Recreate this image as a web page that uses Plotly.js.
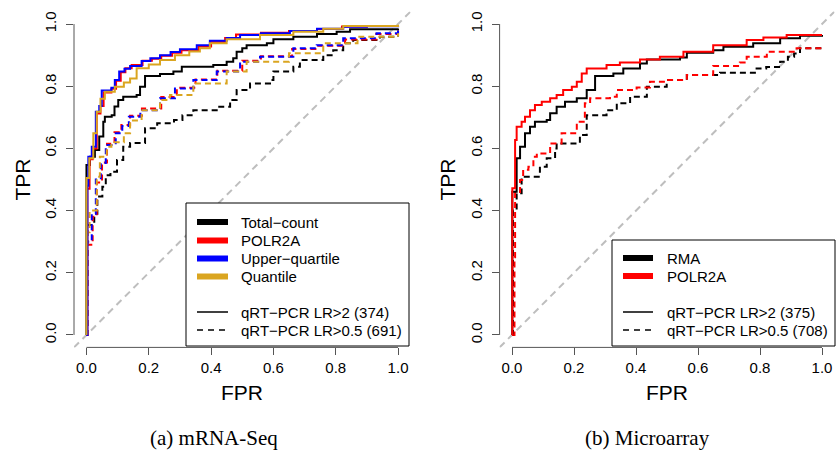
<!DOCTYPE html>
<html>
<head>
<meta charset="utf-8">
<script src="https://cdn.plot.ly/plotly-3.0.1.min.js"></script>
<style>html,body{margin:0;padding:0;background:#fff;}#chart{width:837px;height:452px;}</style>
</head>
<body>
<div id="chart"></div>
<script>
// ---------- Panel (a) mRNA-Seq : LR>2 (solid) ----------
const tcF = [0, 0.000, 0.011, 0.027, 0.041, 0.054, 0.059, 0.081, 0.090, 0.102, 0.118, 0.161, 0.172, 0.188, 0.236, 0.279, 0.306, 0.407, 0.450, 0.471, 0.482, 0.500, 0.514, 0.579, 0.600, 0.664, 0.740, 0.803, 0.846, 1.0];
const tcT = [0, 0.547, 0.573, 0.595, 0.638, 0.686, 0.702, 0.707, 0.735, 0.756, 0.766, 0.772, 0.798, 0.833, 0.839, 0.847, 0.863, 0.868, 0.879, 0.890, 0.911, 0.922, 0.932, 0.938, 0.951, 0.959, 0.968, 0.975, 0.983, 0.986];
const poF = [0, 0.003, 0.010, 0.020, 0.033, 0.045, 0.055, 0.080, 0.095, 0.110, 0.125, 0.145, 0.180, 0.210, 0.240, 0.275, 0.305, 0.360, 0.400, 0.445, 0.480, 0.560, 0.650, 0.740, 0.820, 0.900, 1.0];
const poT = [0, 0.470, 0.565, 0.600, 0.712, 0.736, 0.780, 0.792, 0.818, 0.845, 0.858, 0.868, 0.882, 0.888, 0.898, 0.908, 0.916, 0.928, 0.942, 0.955, 0.966, 0.972, 0.978, 0.984, 0.992, 0.994, 0.996];
const uqF = [0, 0.003, 0.006, 0.017, 0.030, 0.041, 0.049, 0.080, 0.091, 0.105, 0.122, 0.140, 0.177, 0.205, 0.236, 0.270, 0.300, 0.354, 0.396, 0.450, 0.493, 0.560, 0.653, 0.740, 0.824, 0.900, 1.0];
const uqT = [0, 0.480, 0.573, 0.605, 0.718, 0.736, 0.786, 0.795, 0.820, 0.847, 0.856, 0.865, 0.881, 0.890, 0.900, 0.910, 0.919, 0.932, 0.946, 0.955, 0.965, 0.970, 0.978, 0.985, 0.991, 0.993, 0.995];
const qF = [0, 0.000, 0.009, 0.022, 0.033, 0.045, 0.059, 0.091, 0.120, 0.140, 0.161, 0.200, 0.236, 0.284, 0.330, 0.364, 0.396, 0.450, 0.557, 0.664, 0.760, 0.824, 1.0];
const qT = [0, 0.505, 0.568, 0.649, 0.718, 0.760, 0.782, 0.798, 0.812, 0.825, 0.858, 0.870, 0.884, 0.900, 0.912, 0.922, 0.938, 0.951, 0.965, 0.975, 0.985, 0.994, 0.998];
// ---------- Panel (a) mRNA-Seq : LR>0.5 (dashed) ----------
const tcdF = [0, 0.003, 0.025, 0.035, 0.051, 0.062, 0.077, 0.098, 0.118, 0.140, 0.188, 0.227, 0.281, 0.308, 0.343, 0.418, 0.461, 0.482, 0.525, 0.589, 0.600, 0.664, 0.685, 0.760, 0.792, 0.824, 0.856, 0.942, 1.0];
const tcdT = [0, 0.354, 0.390, 0.445, 0.477, 0.514, 0.525, 0.563, 0.605, 0.617, 0.665, 0.681, 0.691, 0.707, 0.723, 0.734, 0.756, 0.788, 0.809, 0.820, 0.847, 0.863, 0.884, 0.900, 0.916, 0.938, 0.949, 0.959, 0.965];
const podF = [0, 0.003, 0.020, 0.033, 0.050, 0.066, 0.090, 0.112, 0.140, 0.178, 0.240, 0.290, 0.350, 0.420, 0.500, 0.560, 0.660, 0.740, 0.830, 0.930, 1.0];
const podT = [0, 0.290, 0.380, 0.490, 0.555, 0.615, 0.652, 0.675, 0.705, 0.728, 0.765, 0.795, 0.822, 0.850, 0.882, 0.896, 0.920, 0.930, 0.950, 0.968, 0.980];
const uqdF = [0, 0.003, 0.017, 0.030, 0.046, 0.062, 0.094, 0.115, 0.136, 0.173, 0.236, 0.284, 0.343, 0.418, 0.493, 0.557, 0.664, 0.739, 0.824, 0.931, 1.0];
const uqdT = [0, 0.300, 0.390, 0.500, 0.553, 0.611, 0.649, 0.672, 0.702, 0.723, 0.761, 0.793, 0.820, 0.847, 0.879, 0.895, 0.922, 0.932, 0.954, 0.970, 0.981];
const qdF = [0, 0.003, 0.010, 0.033, 0.043, 0.065, 0.080, 0.120, 0.140, 0.177, 0.236, 0.268, 0.343, 0.450, 0.514, 0.650, 0.760, 0.870, 1.0];
const qdT = [0, 0.330, 0.400, 0.509, 0.573, 0.605, 0.620, 0.649, 0.690, 0.723, 0.756, 0.772, 0.809, 0.847, 0.879, 0.906, 0.938, 0.959, 0.970];
// ---------- Panel (b) Microarray ----------
const rmF = [0, 0.001, 0.015, 0.026, 0.042, 0.058, 0.074, 0.112, 0.123, 0.144, 0.171, 0.209, 0.235, 0.241, 0.268, 0.327, 0.359, 0.413, 0.435, 0.542, 0.564, 0.649, 0.682, 0.778, 0.865, 0.929, 1.0];
const rmT = [0, 0.461, 0.568, 0.605, 0.649, 0.670, 0.686, 0.691, 0.713, 0.734, 0.750, 0.761, 0.761, 0.788, 0.833, 0.841, 0.857, 0.873, 0.886, 0.892, 0.908, 0.916, 0.927, 0.938, 0.954, 0.962, 0.965];
const prF = [0, 0.001, 0.010, 0.015, 0.031, 0.042, 0.058, 0.074, 0.096, 0.123, 0.144, 0.165, 0.193, 0.209, 0.225, 0.241, 0.305, 0.348, 0.413, 0.477, 0.553, 0.649, 0.757, 0.811, 0.886, 1.0];
const prT = [0, 0.472, 0.627, 0.670, 0.686, 0.702, 0.723, 0.740, 0.750, 0.761, 0.772, 0.788, 0.798, 0.814, 0.841, 0.857, 0.868, 0.876, 0.886, 0.895, 0.911, 0.932, 0.949, 0.957, 0.965, 0.965];
const rmdF = [0, 0.003, 0.015, 0.031, 0.090, 0.112, 0.139, 0.144, 0.219, 0.241, 0.305, 0.338, 0.381, 0.435, 0.499, 0.564, 0.671, 0.789, 0.820, 0.865, 0.890, 0.910, 0.929, 1.0];
const rmdT = [0, 0.400, 0.456, 0.509, 0.541, 0.568, 0.600, 0.616, 0.643, 0.707, 0.723, 0.745, 0.766, 0.798, 0.820, 0.836, 0.843, 0.857, 0.862, 0.879, 0.895, 0.905, 0.922, 0.927];
const prdF = [0, 0.008, 0.010, 0.026, 0.036, 0.053, 0.069, 0.080, 0.123, 0.160, 0.209, 0.235, 0.252, 0.316, 0.338, 0.402, 0.445, 0.499, 0.564, 0.649, 0.735, 0.757, 0.822, 0.918, 1.0];
const prdT = [0, 0.250, 0.460, 0.498, 0.531, 0.541, 0.573, 0.584, 0.616, 0.649, 0.686, 0.745, 0.761, 0.766, 0.788, 0.796, 0.814, 0.820, 0.836, 0.865, 0.876, 0.895, 0.911, 0.922, 0.927];

const tickVals = [0, 0.2, 0.4, 0.6, 0.8, 1.0];
const tickText = ["0.0", "0.2", "0.4", "0.6", "0.8", "1.0"];
const legendA = ["Total\u2212count", "POLR2A", "Upper\u2212quartile", "Quantile"];
const legendB = ["RMA", "POLR2A"];
const lineLabelsA = ["qRT\u2212PCR LR>2 (374)", "qRT\u2212PCR LR>0.5 (691)"];
const lineLabelsB = ["qRT\u2212PCR LR>2 (375)", "qRT\u2212PCR LR>0.5 (708)"];
const captions = ["(a) mRNA-Seq", "(b) Microarray"];

const BLACK = "#000000", RED = "#FF0000", BLUE = "#0000FF", GOLD = "#DAA520", GRAY = "#BEBEBE";
const DASH = "6px,4px";
const W = 837, H = 452;
const px = v => v / W, py = v => (H - v) / H;

function curve(x, y, color, dash, xa, ya) {
  return {x: x, y: y, type: "scatter", mode: "lines", xaxis: xa, yaxis: ya,
    line: {color: color, width: 2, dash: dash || "solid", shape: "hv"}, hoverinfo: "skip"};
}
function diag(xa, ya) {
  return {x: [-0.04, 1.04], y: [-0.04, 1.04], type: "scatter", mode: "lines", xaxis: xa, yaxis: ya,
    line: {color: GRAY, width: 2, dash: "7px,5px"}, hoverinfo: "skip"};
}

const data = [
  diag("x", "y"),
  curve(tcdF, tcdT, BLACK, DASH, "x", "y"),
  curve(podF, podT, RED, DASH, "x", "y"),
  curve(uqdF, uqdT, BLUE, DASH, "x", "y"),
  curve(qdF, qdT, GOLD, DASH, "x", "y"),
  curve(tcF, tcT, BLACK, null, "x", "y"),
  curve(poF, poT, RED, null, "x", "y"),
  curve(uqF, uqT, BLUE, null, "x", "y"),
  curve(qF, qT, GOLD, null, "x", "y"),
  diag("x2", "y2"),
  curve(rmdF, rmdT, BLACK, DASH, "x2", "y2"),
  curve(prdF, prdT, RED, DASH, "x2", "y2"),
  curve(rmF, rmT, BLACK, null, "x2", "y2"),
  curve(prF, prT, RED, null, "x2", "y2")
];

const tickFont = {family: "Liberation Sans, Arial, sans-serif", size: 15, color: "#000"};
function xax(dom, anchor) {
  return {domain: dom, anchor: anchor, range: [-0.04, 1.04], tickvals: tickVals, ticktext: tickText,
    ticks: "outside", ticklen: 7, tickwidth: 1, tickcolor: "#555", showgrid: false, zeroline: false,
    showline: false, tickfont: tickFont, fixedrange: true};
}
function yax(dom, anchor) {
  return {domain: dom, anchor: anchor, range: [-0.04, 1.04], tickvals: tickVals, ticktext: tickText,
    ticks: "outside", ticklen: 7, tickwidth: 1, tickcolor: "#555", showgrid: false, zeroline: false,
    showline: false, tickfont: tickFont, tickangle: -90, ticklabelstandoff: 4, fixedrange: true};
}

const shapes = [];
const annotations = [];
// axis lines (from 0 to 1 only, like R)
[["x", "y"], ["x2", "y2"]].forEach(([xa, ya]) => {
  shapes.push({type: "line", xref: xa + " domain", yref: ya, x0: 0, x1: 0, y0: 0, y1: 1, line: {color: "#555", width: 1}});
  shapes.push({type: "line", xref: xa, yref: ya + " domain", x0: 0, x1: 1, y0: 0, y1: 0, line: {color: "#555", width: 1}});
});

const legFont = {family: "Liberation Sans, Arial, sans-serif", size: 15, color: "#000"};
function legend(box, lineX, textX, rows, colors, styleRows, labels) {
  shapes.push({type: "rect", xref: "paper", yref: "paper", x0: px(box[0]), x1: px(box[1]), y0: py(box[3]), y1: py(box[2]),
    fillcolor: "#fff", line: {color: "#000", width: 1}, layer: "above"});
  rows.forEach((r, i) => {
    shapes.push({type: "line", xref: "paper", yref: "paper", x0: px(lineX[0]), x1: px(lineX[1]), y0: py(r), y1: py(r),
      line: {color: colors[i], width: 6}});
    annotations.push({xref: "paper", yref: "paper", x: px(textX), y: py(r), text: labels[i], showarrow: false,
      xanchor: "left", yanchor: "middle", font: legFont});
  });
  styleRows.forEach((r, i) => {
    shapes.push({type: "line", xref: "paper", yref: "paper", x0: px(lineX[0]), x1: px(lineX[1]), y0: py(r), y1: py(r),
      line: {color: "#000", width: 1.5, dash: i === 0 ? "solid" : "6px,5px"}});
  });
}
legend([186, 409, 203, 346], [197, 228], 239, [222, 240.5, 258.5, 276.5], [BLACK, RED, BLUE, GOLD], [312, 330], legendA);
legend([612, 835, 240, 346], [623, 653], 665, [258, 276], [BLACK, RED], [312, 330], legendB);
[[lineLabelsA, 239], [lineLabelsB, 665]].forEach(([labs, tx]) => {
  [312, 330].forEach((r, i) => annotations.push({xref: "paper", yref: "paper", x: px(tx), y: py(r), text: labs[i],
    showarrow: false, xanchor: "left", yanchor: "middle", font: legFont}));
});

const titleFont = {family: "Liberation Sans, Arial, sans-serif", size: 21, color: "#000"};
annotations.push({xref: "paper", yref: "paper", x: px(22), y: py(179.5), text: "TPR", textangle: -90, showarrow: false, xanchor: "center", yanchor: "middle", font: titleFont});
annotations.push({xref: "paper", yref: "paper", x: px(447), y: py(179.5), text: "TPR", textangle: -90, showarrow: false, xanchor: "center", yanchor: "middle", font: titleFont});
annotations.push({xref: "paper", yref: "paper", x: px(242), y: py(392), text: "FPR", showarrow: false, xanchor: "center", yanchor: "middle", font: titleFont});
annotations.push({xref: "paper", yref: "paper", x: px(667), y: py(392), text: "FPR", showarrow: false, xanchor: "center", yanchor: "middle", font: titleFont});
const capFont = {family: "Liberation Serif, Times New Roman, serif", size: 21, color: "#000"};
annotations.push({xref: "paper", yref: "paper", x: px(214), y: py(438), text: captions[0], showarrow: false, xanchor: "center", yanchor: "middle", font: capFont});
annotations.push({xref: "paper", yref: "paper", x: px(647), y: py(438), text: captions[1], showarrow: false, xanchor: "center", yanchor: "middle", font: capFont});

const layout = {
  width: W, height: H, margin: {l: 0, r: 0, t: 0, b: 0},
  paper_bgcolor: "#fff", plot_bgcolor: "#fff", showlegend: false,
  xaxis: xax([px(74), px(410.5)], "y"),
  yaxis: yax([py(347.4), py(11.6)], "x"),
  xaxis2: xax([px(499.6), px(834.4)], "y2"),
  yaxis2: yax([py(347.4), py(11.6)], "x2"),
  shapes: shapes, annotations: annotations
};
Plotly.newPlot("chart", data, layout, {staticPlot: true, displayModeBar: false});
</script>
</body>
</html>
